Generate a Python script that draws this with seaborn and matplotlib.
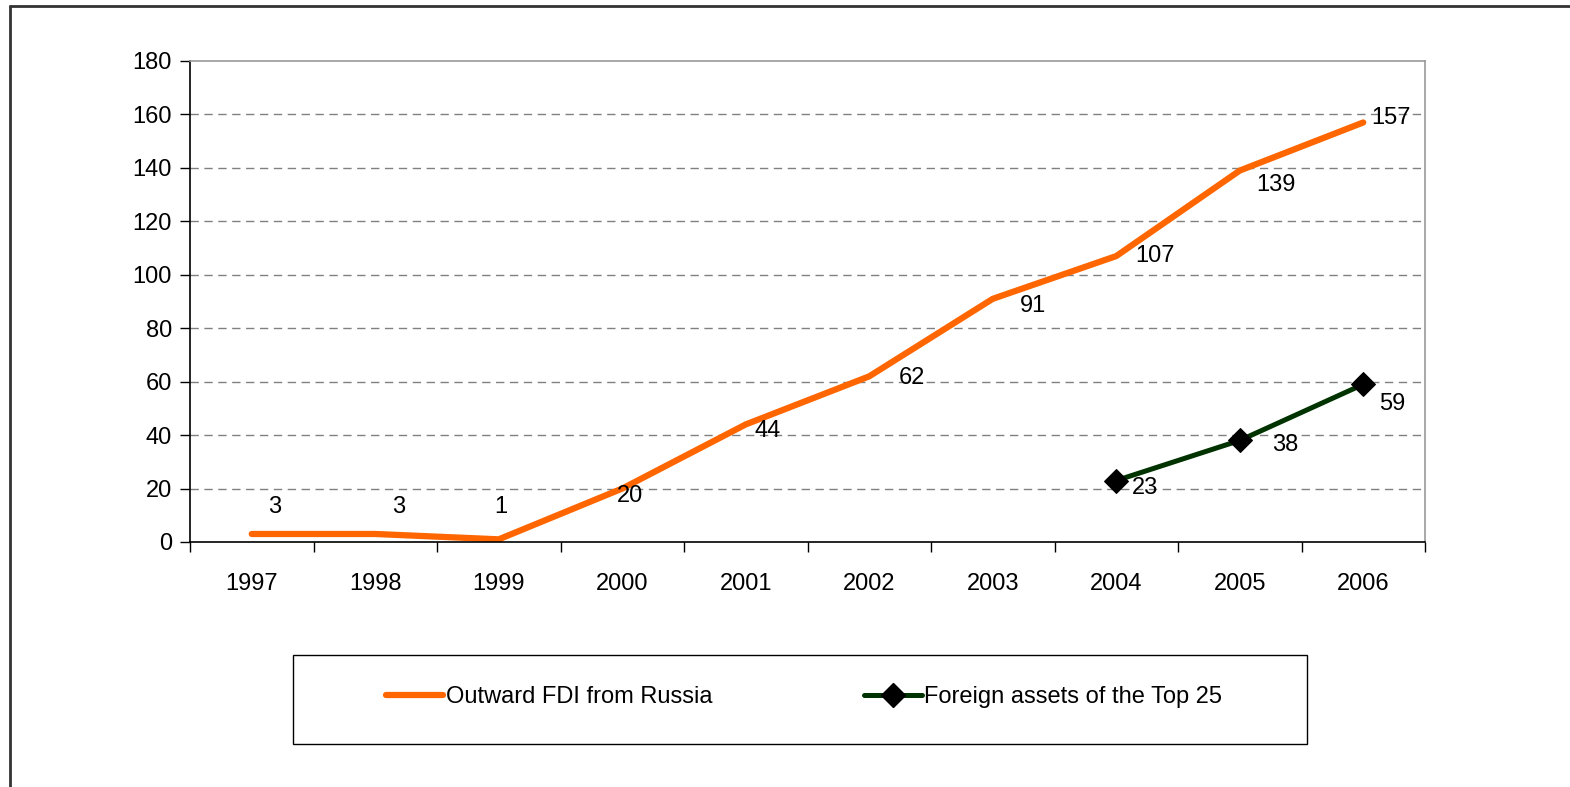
import matplotlib
matplotlib.use("Agg")
import matplotlib.pyplot as plt
import seaborn as sns
import pandas as pd
from matplotlib.lines import Line2D
from matplotlib.patches import Rectangle
from matplotlib.ticker import MultipleLocator, FixedLocator

# ---- data ----
years = [1997, 1998, 1999, 2000, 2001, 2002, 2003, 2004, 2005, 2006]
fdi = [3, 3, 1, 20, 44, 62, 91, 107, 139, 157]
top25_years = [2004, 2005, 2006]
top25 = [23, 38, 59]
series_fdi = "Outward FDI from Russia"
series_top = "Foreign assets of the Top 25"

# label offsets in pixels (style)
fdi_offsets = [(23, 27), (23, 27), (2, 32), (8, -7), (22, -7), (43, -2),
               (40, -7), (39, 0), (36, -14), (28, 4)]
top_offsets = [(29, -7), (45, -5), (29, -20)]

sns.set_theme(style="white")
plt.rcParams['font.family'] = ['Liberation Sans', 'DejaVu Sans']
plt.rcParams['text.color'] = 'black'
plt.rcParams['xtick.color'] = 'black'
plt.rcParams['ytick.color'] = 'black'
plt.rcParams['xtick.labelcolor'] = 'black'
plt.rcParams['ytick.labelcolor'] = 'black'

FS = 17

W, H = 1570, 787
fig = plt.figure(figsize=(W / 100, H / 100), dpi=100)
ax = fig.add_axes([190 / W, 1 - 542 / H, (1425 - 190) / W, (542 - 61) / H])

orange = "#FF6600"
green = "#003300"

df1 = pd.DataFrame({"year": years, "value": fdi})
df2 = pd.DataFrame({"year": top25_years, "value": top25})
sns.lineplot(data=df1, x="year", y="value", ax=ax, color=orange, lw=4.5,
             solid_capstyle="round", label=series_fdi, legend=False)
sns.lineplot(data=df2, x="year", y="value", ax=ax, color=green, lw=3.6,
             marker="D", markersize=12.5, markerfacecolor="black",
             markeredgecolor="black", label=series_top, legend=False)

for x, y, (dx, dy) in zip(years, fdi, fdi_offsets):
    ax.annotate(str(y), (x, y), xytext=(dx, dy), textcoords="offset pixels",
                ha="center", va="center", fontsize=FS, color="black")
for x, y, (dx, dy) in zip(top25_years, top25, top_offsets):
    ax.annotate(str(y), (x, y), xytext=(dx, dy), textcoords="offset pixels",
                ha="center", va="center", fontsize=FS, color="black")

ax.set_xlim(years[0] - 0.5, years[-1] + 0.5)
ax.set_ylim(0, 180)
ax.yaxis.set_major_locator(MultipleLocator(20))
ax.set_xticks(years)
ax.set_xticklabels([str(y) for y in years])
ax.xaxis.set_minor_locator(FixedLocator([y - 0.5 for y in years] + [years[-1] + 0.5]))
ax.tick_params(axis="x", which="major", length=0, labelsize=FS, pad=22, colors="black")
ax.tick_params(axis="x", which="minor", length=7, width=1, color="black", bottom=True, direction="out")
ax.tick_params(axis="y", which="major", length=7, width=1, color="black", left=True,
               direction="out", labelsize=FS, pad=6, labelcolor="black")
ax.set_xlabel("")
ax.set_ylabel("")

for yv in range(20, 180, 20):
    ax.axhline(yv, color="#808080", lw=1, ls=(0, (6, 4)), zorder=0)

ax.spines["left"].set_color("black")
ax.spines["bottom"].set_color("black")
ax.spines["top"].set_color("#999999")
ax.spines["right"].set_color("#999999")
for s in ax.spines.values():
    s.set_linewidth(1.2)
    s.set_visible(True)

# legend box
fig.patches.append(Rectangle((293 / W, 1 - 744 / H), (1307 - 293) / W, (744 - 655) / H,
                             transform=fig.transFigure, fill=False, edgecolor="black", lw=1))
handles = [Line2D([], [], color=orange, lw=4.5, solid_capstyle="round"),
           Line2D([], [], color=green, lw=3.6, marker="D", markersize=12.5,
                  markerfacecolor="black", markeredgecolor="black")]
fig.legend(handles, [series_fdi, series_top], loc="center",
           bbox_to_anchor=(804 / W, 1 - 697 / H), ncol=2, frameon=False,
           fontsize=FS, handlelength=2.45, handletextpad=0.12, columnspacing=6.4,
           labelcolor="black")

# outer border (left and top)
fig.add_artist(Line2D([10 / W, 10 / W], [0, 1 - 6 / H], transform=fig.transFigure,
                      color="#333333", lw=2))
fig.add_artist(Line2D([10 / W, 1], [1 - 6 / H, 1 - 6 / H], transform=fig.transFigure,
                      color="#333333", lw=2))

fig.savefig("out.png", dpi=100, facecolor="white")
